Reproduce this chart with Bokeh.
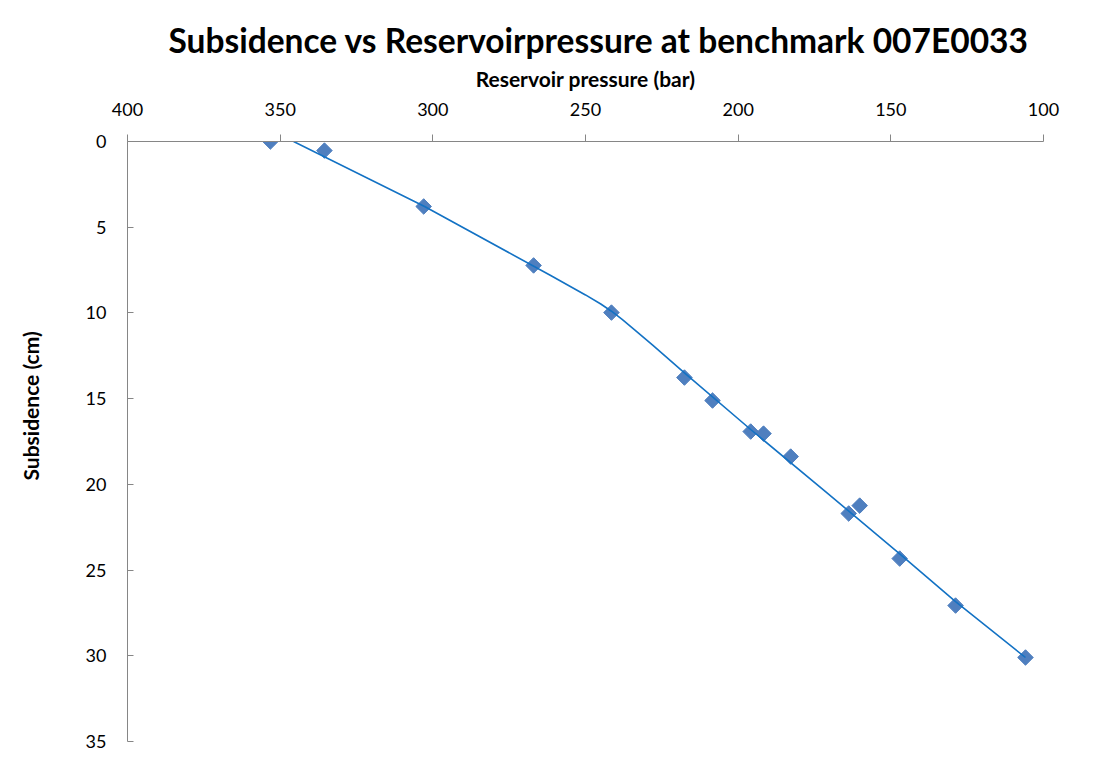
import numpy as np
from bokeh.plotting import figure
from bokeh.models import Range1d, FixedTicker, Title
from bokeh.embed import file_html
from bokeh.resources import INLINE

# Measured data: reservoir pressure (bar) vs subsidence (cm)
pressure = [353.2, 335.5, 303.0, 267.0, 241.5, 217.6, 208.4, 195.9, 191.7, 182.8, 163.8, 160.2, 147.1, 128.8, 105.9]
subsidence = [0.0, 0.53, 3.79, 7.23, 9.98, 13.77, 15.11, 16.92, 17.04, 18.38, 21.7, 21.24, 24.33, 27.07, 30.1]

# Trendline
trend_pressure = [345.6, 302.7, 261.4, 250.0, 245.0, 241.5, 238.0, 234.0, 228.0, 217.6, 195.9, 171.0, 146.8, 128.8, 105.9]
trend_subsidence = [0.0, 3.79, 7.82, 8.95, 9.48, 9.90, 10.38, 10.97, 11.88, 13.50, 16.80, 20.48, 24.10, 26.84, 30.1]

x_ticks = [400, 350, 300, 250, 200, 150, 100]
y_ticks = [0, 5, 10, 15, 20, 25, 30, 35]

FONT = "Lato"
AXIS_COLOR = "#868686"

p = figure(
    width=1099, height=765,
    x_range=Range1d(400, 100), y_range=Range1d(35, 0),
    x_axis_location="above",
    output_backend="svg", toolbar_location=None,
    min_border_left=127, min_border_right=56,
    min_border_top=141, min_border_bottom=24,
)
p.outline_line_color = None
p.xgrid.visible = False
p.ygrid.visible = False
p.background_fill_color = "white"
p.border_fill_color = "white"

p.title.text = "Subsidence vs Reservoirpressure at benchmark 007E0033"
p.title.align = "left"
p.title.offset = 41
p.title.text_font = FONT
p.title.text_font_style = "bold"
p.title.text_font_size = "33.5px"
p.title.text_color = "black"
p.title.standoff = 5

xa = p.xaxis[0]
xa.ticker = FixedTicker(ticks=x_ticks)
xa.axis_label = "Reservoir pressure (bar)"
xa.axis_label_text_font = FONT
xa.axis_label_text_font_style = "bold"
xa.axis_label_text_font_size = "21px"
xa.axis_label_text_color = "black"
xa.axis_label_standoff = 9
xa.major_label_text_font = FONT
xa.major_label_text_font_size = "18px"
xa.major_label_text_color = "black"
xa.major_label_standoff = 19
xa.major_tick_out = 7
xa.major_tick_in = 0
xa.minor_tick_out = 0
xa.minor_tick_in = 0
xa.axis_line_color = AXIS_COLOR
xa.major_tick_line_color = AXIS_COLOR

ya = p.yaxis[0]
ya.ticker = FixedTicker(ticks=y_ticks)
ya.major_label_text_font = FONT
ya.major_label_text_font_size = "18px"
ya.major_label_text_color = "black"
ya.major_label_standoff = 21
ya.major_tick_out = 0
ya.major_tick_in = 6
ya.minor_tick_out = 0
ya.minor_tick_in = 0
ya.axis_line_color = AXIS_COLOR
ya.major_tick_line_color = AXIS_COLOR

ytitle = Title(text="Subsidence (cm)\n ", align="left", offset=261,
               text_font=FONT, text_font_style="bold", text_font_size="21px",
               text_color="black", standoff=30)
p.add_layout(ytitle, "left")

p.scatter(pressure, subsidence, marker="square", angle=np.pi / 4, size=11,
          fill_color="#4F7FBF", line_color="#4F7FBF")
p.line(trend_pressure, trend_subsidence, line_color="#1372C4", line_width=1.6)

open("out.html", "w").write(file_html(p, INLINE))
